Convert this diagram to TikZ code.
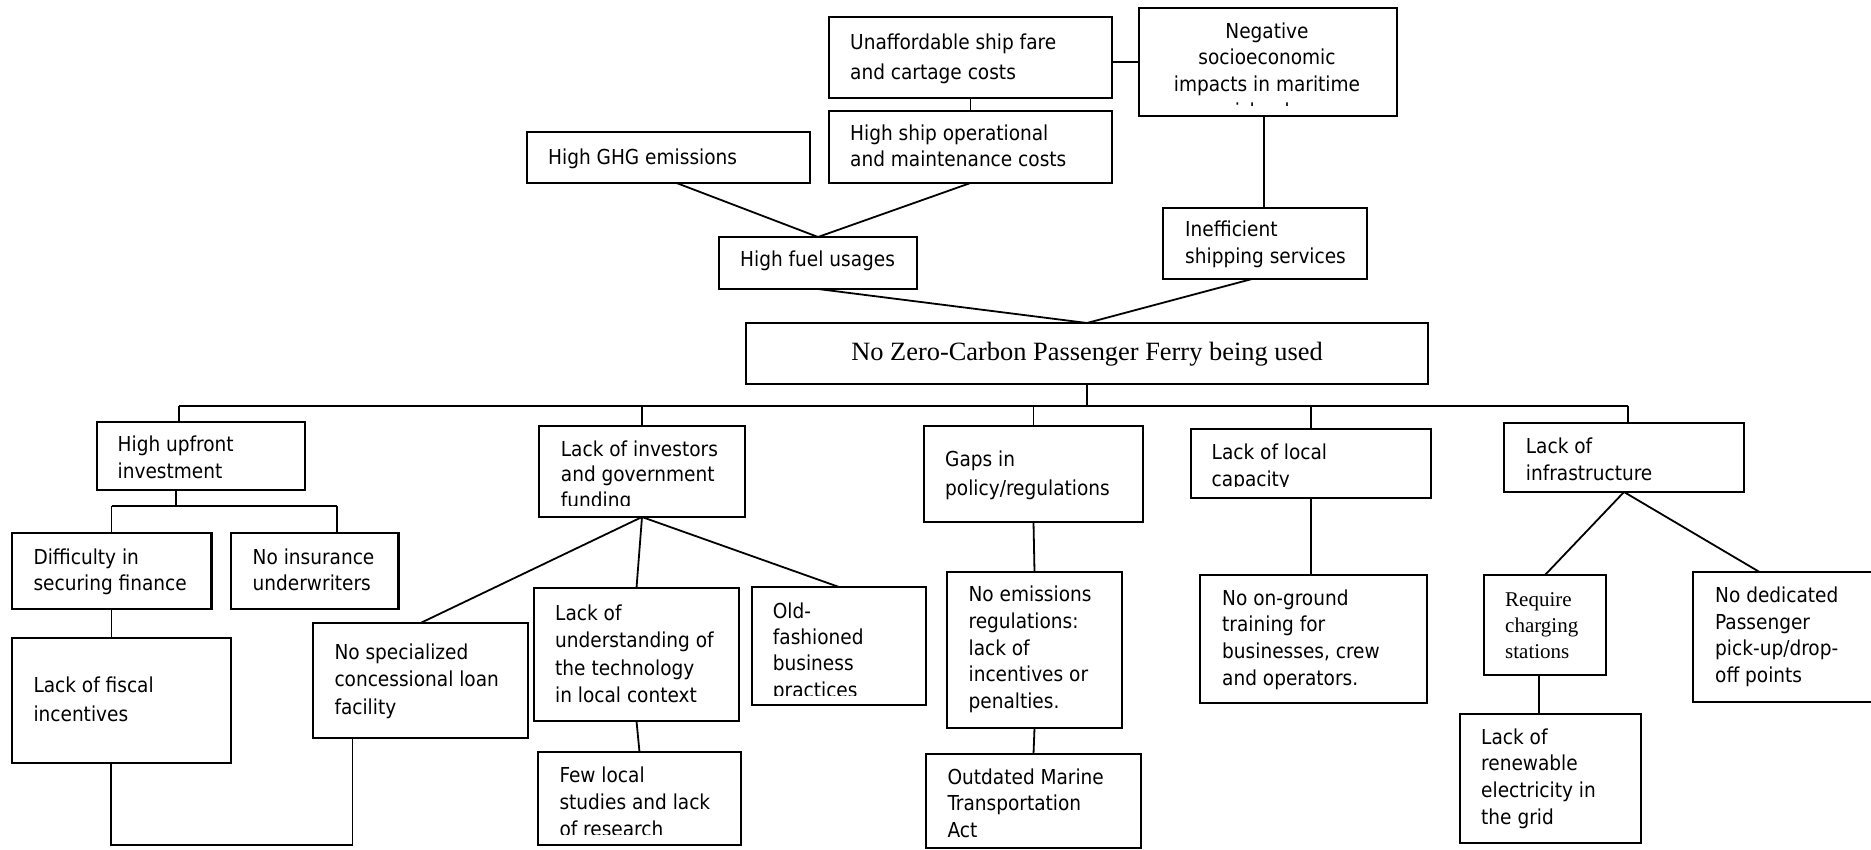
\documentclass[tikz,border=0pt]{standalone}
\usepackage{fontspec}
\newfontfamily\tahfont{DejaVuSansCondensed}[Extension=.ttf]
\newfontfamily\tmsfont{Liberation Serif}
% box from corner (x1,y1) to corner (x2,y2), y growing downwards
\newcommand\fbx[5]{\node[box, minimum width={#4pt-#2pt}, minimum height={#5pt-#3pt}] (#1) at ({(#2+#4)/2},{(#3+#5)/2}) {};}
\begin{document}
% text nodes are placed by the baseline of their last line
\begin{tikzpicture}[x=1pt,y=-1pt,
  box/.style={draw, line width=2.5pt, inner sep=0pt, outer sep=0pt},
  link/.style={line width=1.8pt},
  txt/.style={anchor=base west, align=left, inner sep=0pt, font=\tahfont\fontsize{20.6}{26.7}\selectfont},
  ls/.style={font=\tahfont\fontsize{20.6}{#1}\selectfont},
  serif/.style={anchor=base west, align=left, inner sep=0pt, font=\tmsfont\fontsize{21}{25.8}\selectfont}]
\useasboundingbox (0,0) rectangle (1871,850);

% ---------- boxes ----------
\fbx{unaff}{829}{17}{1112}{98}
\fbx{ship}{829}{111}{1112}{183}
\fbx{neg}{1139}{8}{1397}{116}
\fbx{ghg}{527}{132}{810}{183}
\fbx{fuel}{719}{237}{917}{289}
\fbx{ineff}{1163}{208}{1367}{279}
\fbx{main}{746}{323}{1428}{384}
\fbx{hu}{97}{422}{305}{490}
\fbx{inv}{539}{426}{745}{517}
\fbx{gaps}{924}{426}{1143}{522}
\fbx{local}{1191}{429}{1431}{498}
\fbx{infra}{1504}{423}{1744}{492}
\fbx{diff}{12}{533}{211.5}{609}
\fbx{ins}{231}{533}{398.5}{609}
\fbx{fiscal}{12}{638}{231}{763}
\fbx{spec}{313}{623}{528}{738}
\fbx{und}{534}{588}{739}{721}
\fbx{old}{752}{587}{926}{705}
\fbx{few}{538}{752}{741}{845}
\fbx{noem}{947}{572}{1122}{728}
\fbx{outd}{926}{754}{1141}{848}
\fbx{ongr}{1200}{575}{1427}{703}
\fbx{req}{1484}{575}{1606}{675}
\fbx{ren}{1460}{714}{1641}{843}
\fbx{nod}{1693}{572}{1874}{702}

% ---------- texts ----------
\node[txt, ls=30] (t-unaff) at (850,80) {Unaffordable ship fare\\and cartage costs};
\node[txt, ls=26] (t-ship) at (850,167) {High ship operational\\and maintenance costs};
\begin{scope}
  \clip (1140,9) rectangle (1396,106);
  \node[txt, anchor=base, align=center] (t-neg) at (1267,118.4) {Negative\\socioeconomic\\impacts in maritime\\islands};
\end{scope}
\node[txt] (t-ghg) at (548,165) {High GHG emissions};
\node[txt] (t-fuel) at (740,266.7) {High fuel usages};
\node[txt, ls=27] (t-ineff) at (1185,264) {Inefficient\\shipping services};
\node[anchor=base, inner sep=0pt, font=\tmsfont\fontsize{26.4}{30}\selectfont] (t-main) at (1087,360) {No Zero-Carbon Passenger Ferry being used};

\node[txt, ls=26.6] (t-hu) at (117.5,478.3) {High upfront\\investment};
\begin{scope}
  \clip (540,427) rectangle (744,505);
  \node[txt, ls=25.7] (t-inv) at (560.7,507.4) {Lack of investors\\and government\\funding};
\end{scope}
\node[txt, ls=28.3] (t-gaps) at (945,495) {Gaps in\\policy/regulations};
\begin{scope}
  \clip (1192,430) rectangle (1430,486.5);
  \node[txt] (t-local) at (1211.5,486) {Lack of local\\capacity};
\end{scope}
\node[txt] (t-infra) at (1525.7,480) {Lack of\\infrastructure};

\node[txt] (t-diff) at (33.3,590.7) {Difficulty in\\securing finance};
\node[txt] (t-ins) at (252.5,590.7) {No insurance\\underwriters};
\node[txt, ls=29] (t-fiscal) at (33.3,721.7) {Lack of fiscal\\incentives};
\node[txt, ls=27.5] (t-spec) at (334.3,714.3) {No specialized\\concessional loan\\facility};
\node[txt, ls=27.5] (t-und) at (555,702.5) {Lack of\\understanding of\\the technology\\in local context};
\begin{scope}
  \clip (753,588) rectangle (925,695.5);
  \node[txt, ls=26.3] (t-old) at (772.7,697.2) {Old-\\fashioned\\business\\practices};
\end{scope}
\begin{scope}
  \clip (539,753) rectangle (740,834.5);
  \node[txt, ls=27] (t-few) at (559.3,836.3) {Few local\\studies and lack\\of research};
\end{scope}
\node[txt] (t-noem) at (968.4,708.5) {No emissions\\regulations:\\lack of\\incentives or\\penalties.};
\node[txt] (t-outd) at (947.4,837.4) {Outdated Marine\\Transportation\\Act};
\node[txt, ls=26.9] (t-ongr) at (1222,685.7) {No on-ground\\training for\\businesses, crew\\and operators.};
\node[serif] (t-req) at (1505,658.3) {Require\\charging\\stations};
\node[txt] (t-ren) at (1481,824.1) {Lack of\\renewable\\electricity in\\the grid};
\node[txt, ls=26.8] (t-nod) at (1715,682.7) {No dedicated\\Passenger\\pick-up/drop-\\off points};

% ---------- connectors: effects ----------
\draw[link] (unaff.south) -- (ship.north);
\draw[link] (unaff.east |- neg.west) -- (neg.west);
\draw[link] ([xshift=8pt]ghg.south) -- (fuel.north);
\draw[link] (ship.south) -- (fuel.north);
\draw[link] ([xshift=-4pt]neg.south) -- ([xshift=-4pt]neg.south |- ineff.north);
\draw[link] (fuel.south) -- (main.north);
\draw[link] ([xshift=-13pt]ineff.south) -- (main.north);

% ---------- connectors: causes ----------
\coordinate (busL) at (179,406);
\coordinate (busR) at (1628,406);
\draw[link] (main.south) -- (main.south |- busL);
\draw[link] (busL) -- (busR);
\draw[link] (busL) -- (busL |- hu.north);
\draw[link] (inv.north |- busL) -- (inv.north);
\draw[link] (gaps.north |- busL) -- (gaps.north);
\draw[link] (local.north |- busL) -- (local.north);
\draw[link] (busR) -- (busR |- infra.north);

% high upfront investment branch
\coordinate (subT) at (176,506);
\coordinate (subL) at (111.5,506);
\coordinate (subR) at (337,506);
\draw[link] (subT |- hu.south) -- (subT);
\draw[link] (subL) -- (subR);
\draw[link] (subL) -- (subL |- diff.north);
\draw[link] (subR) -- (subR |- ins.north);
\draw[link] (diff.south -| subL) -- (subL |- fiscal.north);
\coordinate (loopL) at (111,845);
\coordinate (loopR) at (352.5,845);
\draw[link] (loopL |- fiscal.south) -- (loopL) -- (loopR) -- (loopR |- spec.south);

% investors and funding branch
\draw[link] (inv.south) -- (spec.north);
\draw[link] (inv.south) -- (und.north);
\draw[link] (inv.south) -- (old.north);
\draw[link] (und.south) -- (few.north);

% policy branch
\draw[link] (gaps.south) -- (noem.north);
\draw[link] (noem.south) -- (outd.north);

% local capacity branch
\draw[link] (local.south) -- (local.south |- ongr.north);

% infrastructure branch
\draw[link] (infra.south) -- (req.north);
\draw[link] (infra.south) -- ([xshift=-24pt]nod.north);
\draw[link] (1539,0 |- req.south) -- (1539,0 |- ren.north);
\end{tikzpicture}
\end{document}
